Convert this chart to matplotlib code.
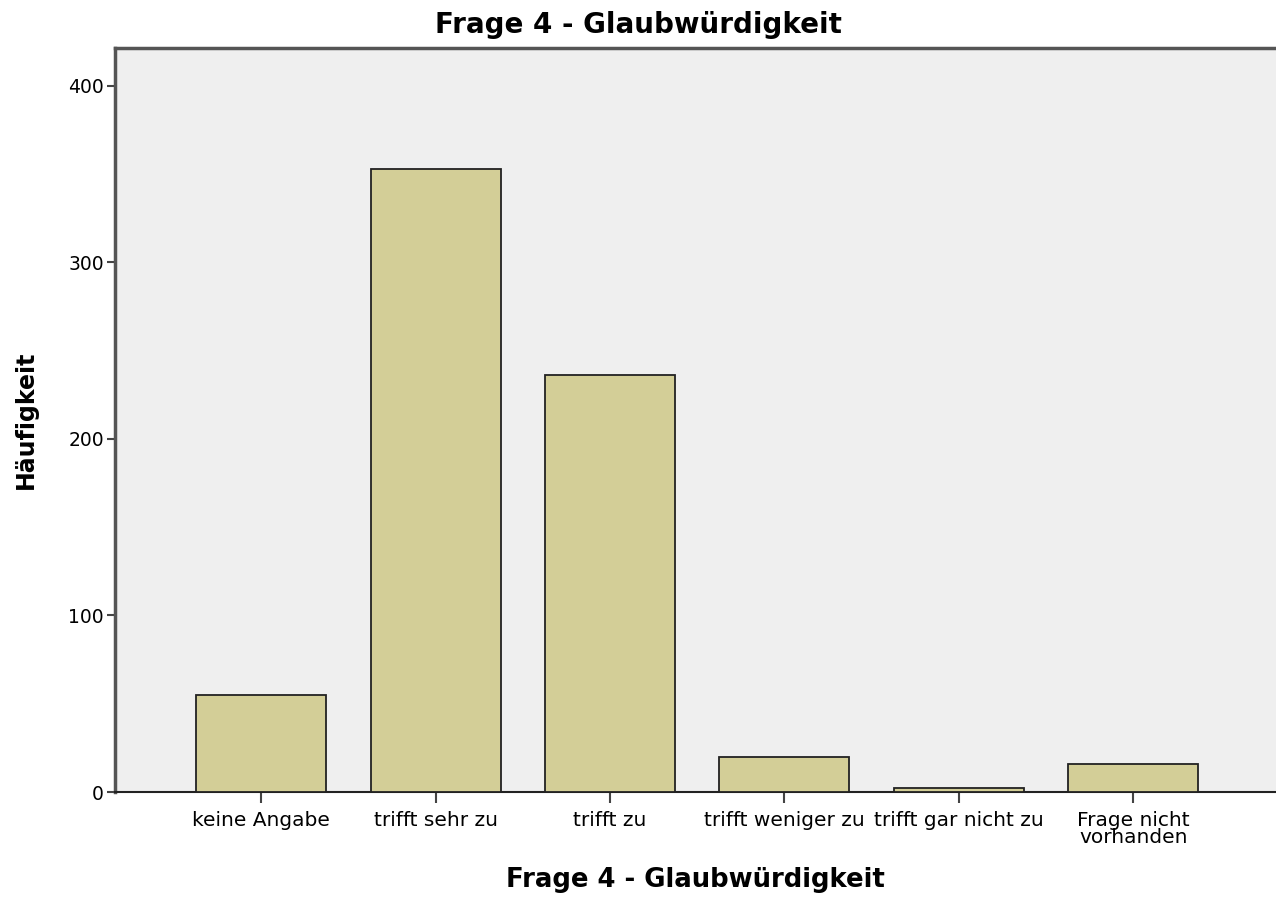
import matplotlib
matplotlib.use('Agg')
import matplotlib.pyplot as plt
import numpy as np

plt.rcParams['font.family'] = ['DejaVu Sans']

# Frage 4 - Glaubwürdigkeit, Häufigkeiten
categories = ['keine Angabe', 'trifft sehr zu', 'trifft zu', 'trifft weniger zu',
              'trifft gar nicht zu', 'Frage nicht\nvorhanden']
counts = [55, 353, 236, 20, 2, 16]
yticks = [0, 100, 200, 300, 400]

W, H = 1276, 900
fig = plt.figure(figsize=(W / 100, H / 100), dpi=100)
ax = fig.add_axes([115 / W, 108 / H, 1 - 115 / W, (792 - 48) / H])
ax.set_facecolor('#efefef')

x = np.arange(len(categories))
ax.bar(x, counts, width=0.745, color='#d3ce97', edgecolor='#222222', linewidth=1.3, zorder=3)

ax.set_xlim(-0.837, 5.817)
ax.set_ylim(0, 421.5)
ax.set_xticks(x)
ax.set_xticklabels(categories, fontsize=14.5, linespacing=0.85)
ax.set_yticks(yticks)
ax.tick_params(axis='y', length=6, width=1.5, color='#444444', labelsize=13.5, pad=2)
ax.tick_params(axis='x', length=8, width=1.5, color='#444444', pad=6)

for s in ['left', 'top']:
    ax.spines[s].set_color('#555555')
    ax.spines[s].set_linewidth(2.5)
ax.spines['right'].set_visible(False)
ax.spines['bottom'].set_color('#222222')
ax.spines['bottom'].set_linewidth(1.5)

fig.text(0.5, 1 - 25 / H, 'Frage 4 - Glaubwürdigkeit', fontsize=20, fontweight='bold',
         ha='center', va='center')
fig.text(695.5 / W, 1 - 880 / H, 'Frage 4 - Glaubwürdigkeit', fontsize=18.7, fontweight='bold',
         ha='center', va='center')
fig.text(26 / W, 1 - 420 / H, 'Häufigkeit', fontsize=17, fontweight='bold',
         ha='center', va='center', rotation=90)

fig.savefig('out.png', dpi=100)
